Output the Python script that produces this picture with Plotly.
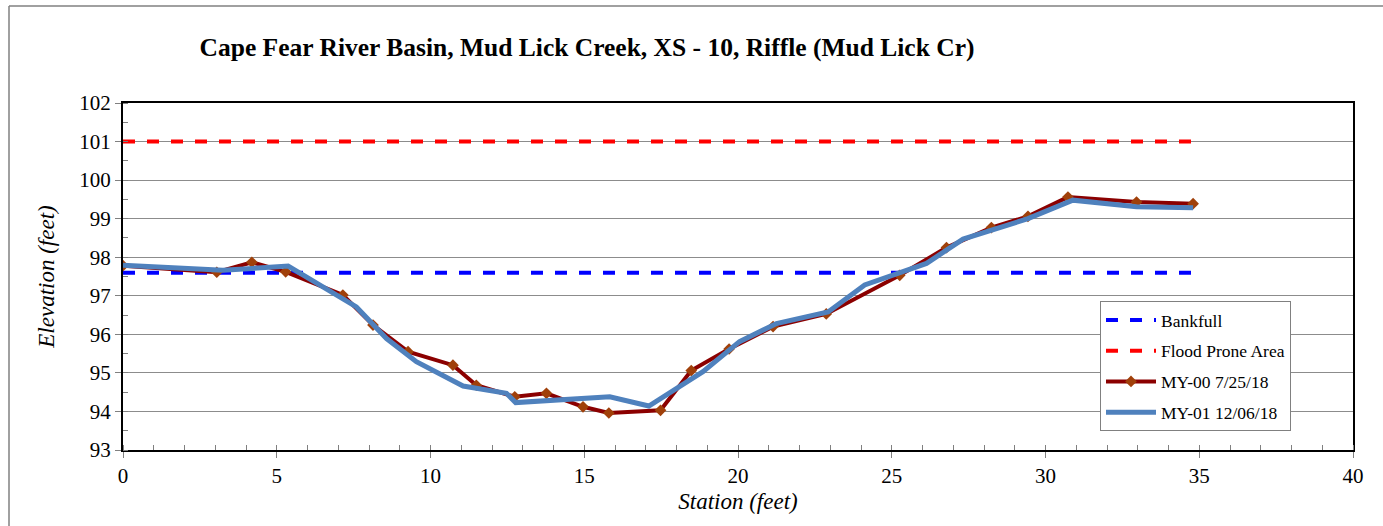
import plotly.graph_objects as go

# ---- data ----
bankfull_x = [0, 34.74]
bankfull_y = [97.6, 97.6]
flood_x = [0, 34.74]
flood_y = [101.0, 101.0]

my00_x = [0, 3.05, 4.19, 5.29, 7.15, 8.13, 9.27, 10.73, 11.49, 12.74, 13.77, 14.96, 15.80,
          17.48, 18.48, 19.71, 21.14, 22.87, 25.26, 26.78, 28.24, 29.43, 30.73, 32.96, 34.80]
my00_y = [97.78, 97.61, 97.87, 97.62, 97.02, 96.24, 95.55, 95.20, 94.68, 94.38, 94.47, 94.12, 93.96,
          94.03, 95.06, 95.62, 96.20, 96.53, 97.53, 98.25, 98.77, 99.06, 99.56, 99.43, 99.39]

my01_x = [0, 3.25, 5.37, 7.59, 8.57, 9.54, 11.06, 12.47, 12.77, 15.83, 17.10, 18.86, 20.05,
          21.25, 22.93, 24.12, 26.13, 27.32, 29.43, 30.89, 32.96, 34.80]
my01_y = [97.79, 97.66, 97.77, 96.71, 95.89, 95.29, 94.66, 94.47, 94.23, 94.38, 94.14, 95.03, 95.81,
          96.28, 96.58, 97.28, 97.84, 98.47, 99.00, 99.48, 99.31, 99.28]

title = "Cape Fear River Basin, Mud Lick Creek, XS - 10, Riffle (Mud Lick Cr)"
FONT = "Liberation Serif"

W, H = 1383, 526
L, R, T, B = 123, 30, 103, 76
pw, ph = W - L - R, H - T - B

def px(xp):
    return (xp - L) / pw

def py(yp):
    return (H - B - yp) / ph

fig = go.Figure()
fig.add_trace(go.Scatter(x=bankfull_x, y=bankfull_y, mode="lines", name="Bankfull", legendgroup="a",
                         line=dict(color="#0000FF", width=4, dash="dash")))
fig.add_trace(go.Scatter(x=flood_x, y=flood_y, mode="lines", name="Flood Prone Area", legendgroup="b",
                         line=dict(color="#FF0000", width=4, dash="dash")))
fig.add_trace(go.Scatter(x=my00_x, y=my00_y, mode="lines+markers", name="MY-00 7/25/18", legendgroup="c",
                         line=dict(color="#8B0000", width=4),
                         marker=dict(symbol="diamond", size=9, color="#A0400A")))
fig.add_trace(go.Scatter(x=my01_x, y=my01_y, mode="lines", name="MY-01 12/06/18", legendgroup="d",
                         line=dict(color="#4F81BD", width=5)))

tickfont = dict(family=FONT, size=21, color="black")

fig.update_layout(
    width=W, height=H,
    margin=dict(l=L, r=R, t=T, b=B, autoexpand=False),
    paper_bgcolor="white", plot_bgcolor="white",
    font=dict(family=FONT, color="black", size=21),
    title=dict(text="<b>" + title + "</b>", x=587 / W, xref="container", xanchor="center",
               y=1 - 47 / H, yanchor="middle", font=dict(size=25.5, family=FONT)),
    showlegend=True,
    legend=dict(x=px(1100), y=py(301), xanchor="left", yanchor="top",
                bgcolor="white", bordercolor="#808080", borderwidth=1,
                font=dict(size=17.5, family=FONT), tracegroupgap=5, traceorder="grouped",
                itemwidth=50),
    xaxis=dict(range=[0, 40], tickvals=[0, 5, 10, 15, 20, 25, 30, 35, 40], tickfont=tickfont,
               ticks="outside", ticklen=6, tickcolor="#808080",
               minor=dict(dtick=1, ticks="inside", ticklen=5, tickcolor="#808080", showgrid=False),
               showgrid=False, zeroline=False,
               showline=True, linecolor="black", linewidth=2, mirror=True,
               title=dict(text="<i>Station (feet)</i>", font=dict(size=23, family=FONT), standoff=6)),
    yaxis=dict(range=[93, 102], dtick=1, ticks="outside", ticklen=6, tickcolor="#808080", tickfont=tickfont,
               minor=dict(dtick=0.5, ticks="inside", ticklen=5, tickcolor="#808080", showgrid=False),
               showgrid=True, gridcolor="#8c8c8c", gridwidth=1, zeroline=False,
               showline=True, linecolor="black", linewidth=2, mirror=True,
               title=dict(text="<i>Elevation (feet)</i>", font=dict(size=23, family=FONT), standoff=18)),
    shapes=[
        dict(type="line", xref="paper", yref="paper", x0=px(9), x1=px(1383), y0=py(6), y1=py(6),
             line=dict(color="#808080", width=1.5)),
        dict(type="line", xref="paper", yref="paper", x0=px(9), x1=px(9), y0=py(6), y1=py(526),
             line=dict(color="#808080", width=1.5)),
    ],
)

fig.write_html("out.html", config={"displayModeBar": False},
               post_script="document.body.style.margin='0';document.body.style.overflow='hidden';")
